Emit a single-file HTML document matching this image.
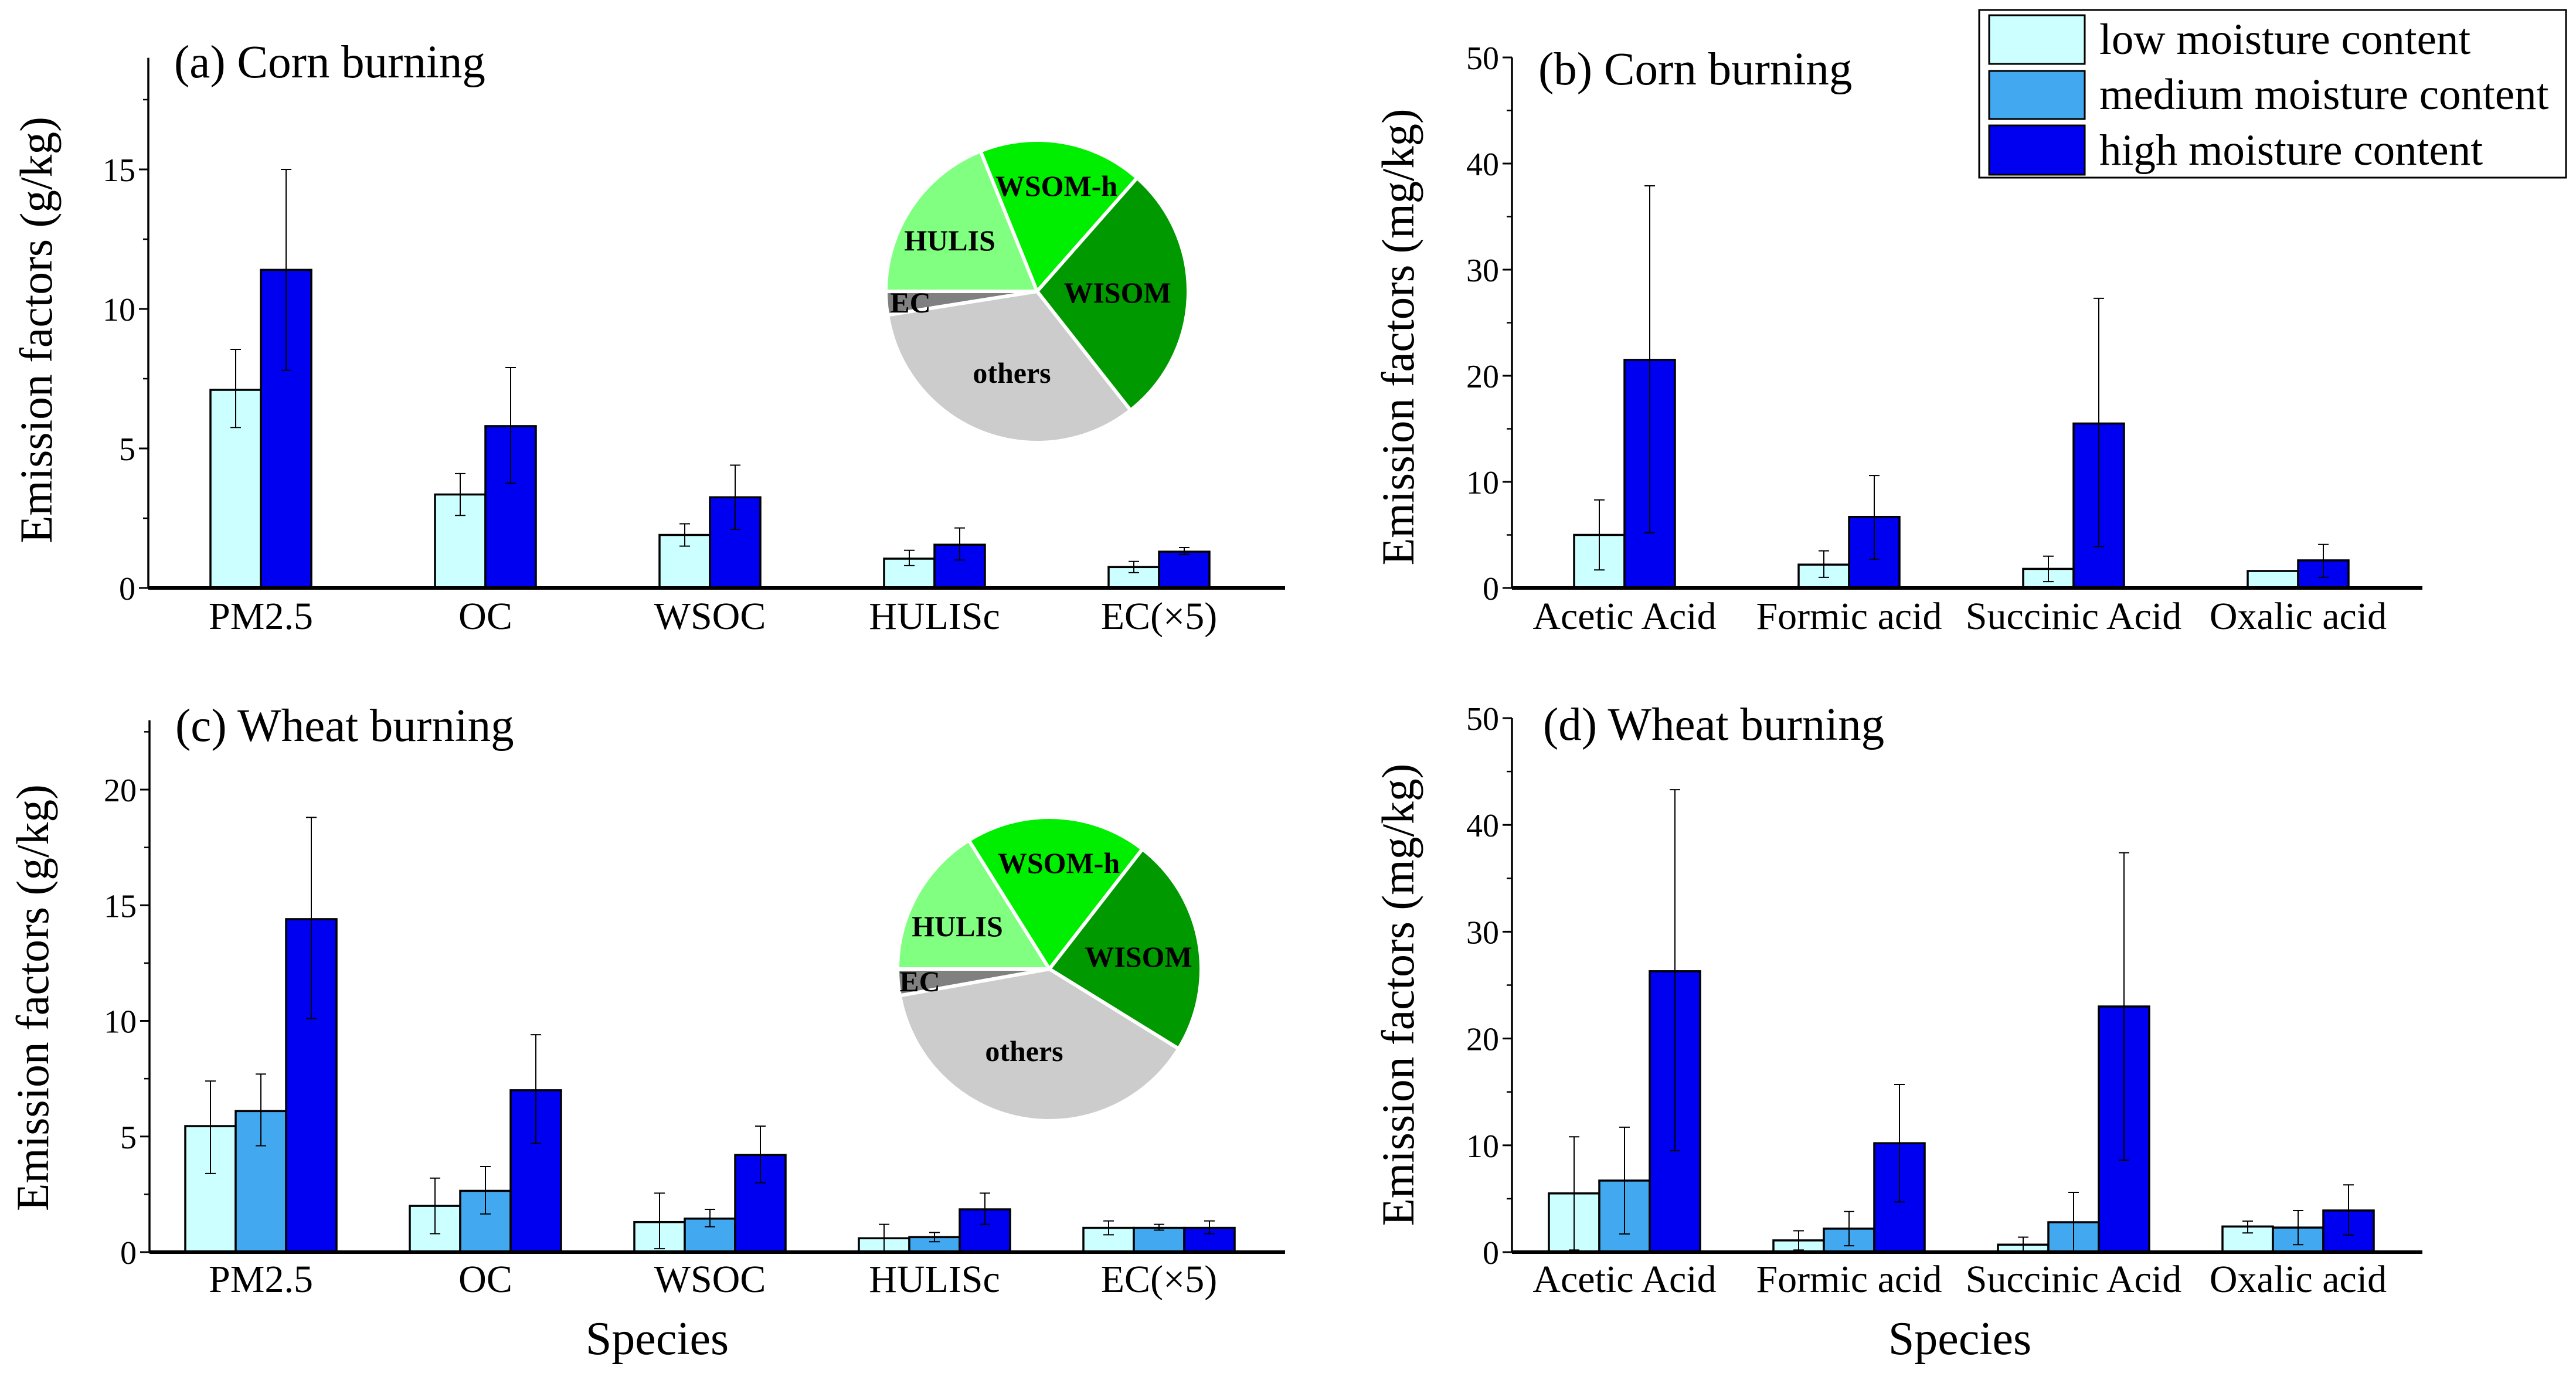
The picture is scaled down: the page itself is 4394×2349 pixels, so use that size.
<!DOCTYPE html>
<html><head><meta charset="utf-8"><style>
html,body{margin:0;padding:0;background:#fff}
svg{display:block}
text{font-family:"Liberation Serif",serif;fill:#000}
</style></head><body>
<svg id="fig" width="4394" height="2349" viewBox="0 0 4394 2349" xmlns="http://www.w3.org/2000/svg">
<g>
<rect x="3376" y="17" width="1001" height="286" fill="#fff" stroke="#000" stroke-width="3"/>
<rect x="3393" y="26" width="163" height="83" fill="#ccffff" stroke="#000" stroke-width="3"/>
<rect x="3393" y="121" width="163" height="82" fill="#42a8f0" stroke="#000" stroke-width="3"/>
<rect x="3393" y="214" width="163" height="84" fill="#0000f0" stroke="#000" stroke-width="3"/>
<text x="3581" y="92" font-size="75">low moisture content</text>
<text x="3581" y="186" font-size="75">medium moisture content</text>
<text x="3581" y="281" font-size="75">high moisture content</text>
</g>
</svg>
<script>
// ---- data ----
const catsTop=["PM2.5","OC","WSOC","HULISc","EC(×5)"];
const catsAcid=["Acetic Acid","Formic acid","Succinic Acid","Oxalic acid"];
// panel a (corn, g/kg): low, high
const aLow=[7.1,3.35,1.9,1.05,0.75];
const aLowLo=[5.75,2.6,1.5,0.8,0.55];
const aLowHi=[8.55,4.1,2.3,1.35,0.95];
const aHigh=[11.4,5.8,3.25,1.55,1.3];
const aHighLo=[7.8,3.75,2.1,1.0,1.2];
const aHighHi=[15.0,7.9,4.4,2.15,1.45];
// panel b (corn, mg/kg)
const bLow=[5.0,2.2,1.8,1.6];
const bLowLo=[1.7,1.0,0.6,1.6];
const bLowHi=[8.3,3.5,3.0,1.6];
const bHigh=[21.5,6.7,15.5,2.6];
const bHighLo=[5.2,2.7,3.9,1.0];
const bHighHi=[37.9,10.6,27.3,4.1];
// panel c (wheat, g/kg)
const cLow=[5.45,2.0,1.3,0.6,1.05];
const cLowLo=[3.4,0.8,0.15,0.0,0.75];
const cLowHi=[7.4,3.2,2.55,1.2,1.35];
const cMed=[6.1,2.65,1.45,0.65,1.05];
const cMedLo=[4.6,1.65,1.1,0.45,0.95];
const cMedHi=[7.7,3.7,1.85,0.85,1.2];
const cHigh=[14.4,7.0,4.2,1.85,1.05];
const cHighLo=[10.1,4.7,3.0,1.2,0.8];
const cHighHi=[18.8,9.4,5.45,2.55,1.35];
// panel d (wheat, mg/kg)
const dLow=[5.5,1.1,0.7,2.4];
const dLowLo=[0.2,0.2,0.0,1.8];
const dLowHi=[10.8,2.0,1.4,2.9];
const dMed=[6.7,2.2,2.8,2.3];
const dMedLo=[1.7,0.6,0.0,0.7];
const dMedHi=[11.7,3.8,5.6,3.9];
const dHigh=[26.3,10.2,23.0,3.9];
const dHighLo=[9.5,4.7,8.6,1.6];
const dHighHi=[43.3,15.7,37.4,6.3];
// pie shares (percent)
const pieLabels=["HULIS","WSOM-h","WISOM","others","EC"];
const pieA=[18.9,17.6,27.9,33.1,2.5];
const pieC=[16.1,19.4,23.3,38.4,2.8];
const pieColors=["#80ff80","#00ee00","#009900","#cccccc","#808080"];
const ticksA=[0,5,10,15], ticksC=[0,5,10,15,20], ticksAcid=[0,10,20,30,40,50];

const NS="http://www.w3.org/2000/svg";
const svg=document.getElementById('fig');
function mk(tag,attrs,parent,txt){const e=document.createElementNS(NS,tag);for(const k in attrs)e.setAttribute(k,attrs[k]);if(txt!==undefined)e.textContent=txt;(parent||svg).appendChild(e);return e;}

function panel(o){
  const g=mk('g',{});
  
  
  const y=v=>o.y0-(v/o.tv)*(o.y0-o.ty0);
  const topY=y(o.max);
  for(let v=o.minor;v<=o.max+1e-6;v+=o.minor){mk('line',{x1:o.ax-9,x2:o.ax,y1:y(v),y2:y(v),stroke:'#000','stroke-width':2.5},g);}
  o.ticks.forEach(v=>{
    mk('line',{x1:o.ax-16,x2:o.ax,y1:y(v),y2:y(v),stroke:'#000','stroke-width':3},g);
    const t=mk('text',{x:o.ax-22,y:y(v)+20,'font-size':56,'text-anchor':'end'},g,String(v));
    
    
  });
  const n=o.series.length, bw=86;
  o.cats.forEach((c,i)=>{
    const cx=o.c0+i*383;
    o.series.forEach((s,j)=>{
      const x=cx-n*bw/2+j*bw;
      const r=mk('rect',{x:x,y:y(s.v[i]),width:bw,height:o.y0-y(s.v[i]),fill:s.col,stroke:'#000','stroke-width':3.5},g);
      
      
      const ex=x+bw/2;
      const e=mk('path',{d:`M${ex},${y(s.lo[i])}V${y(s.hi[i])}M${ex-9},${y(s.lo[i])}h18M${ex-9},${y(s.hi[i])}h18`,stroke:'#000','stroke-width':2,fill:'none'},g);
      
      
    });
    const t=mk('text',{x:cx,y:o.labY,'font-size':66,'text-anchor':'middle'},g,c);
    
    
  });
  mk('line',{x1:o.ax,x2:o.ax,y1:topY,y2:o.y0,stroke:'#000','stroke-width':3.5},g);
  const xa=mk('line',{x1:o.ax,x2:o.xend,y1:o.y0,y2:o.y0,stroke:'#000','stroke-width':6},g);
  
  
  const tt=mk('text',{x:o.tx,y:o.tty,'font-size':79},g,o.title);
  
  
  const yt=mk('text',{x:0,y:0,'font-size':78,'text-anchor':'middle',textLength:o.ytl,lengthAdjust:'spacingAndGlyphs',transform:`translate(${o.ytx},${o.yty}) rotate(-90)`},g,o.ytitle);
  
  
  if(o.species){const s=mk('text',{x:o.species,y:2310,'font-size':80,'text-anchor':'middle'},g,'Species');
    
    }
}

function pie(cx,cy,r,vals,labpos,name){
  const g=mk('g',{});
  
  
  const tot=vals.reduce((a,b)=>a+b,0);
  let a=270;
  vals.forEach((v,i)=>{
    const a0=a, a1=a+v/tot*360; a=a1;
    const p=ang=>[cx+r*Math.sin(ang*Math.PI/180),cy-r*Math.cos(ang*Math.PI/180)];
    const [x0,y0]=p(a0),[x1,y1]=p(a1);
    const s=mk('path',{d:`M${cx},${cy}L${x0},${y0}A${r},${r} 0 ${a1-a0>180?1:0} 1 ${x1},${y1}Z`,fill:pieColors[i],stroke:'#fff','stroke-width':6},g);
    
    
  });
  pieLabels.forEach((l,i)=>{
    const t=mk('text',{x:labpos[i][0],y:labpos[i][1]+17,'font-size':50,'font-weight':'bold','text-anchor':'middle'},g,l);
    
    
  });
}

const LOW='#ccffff',MED='#42a8f0',HIGH='#0000f0';
panel({name:'panel-a',ax:253,y0:1003,ty0:289,tv:15,max:19,minor:2.5,ticks:ticksA,cats:catsTop,c0:445,xend:2192,labY:1073,
  series:[{key:'low',v:aLow,lo:aLowLo,hi:aLowHi,col:LOW},{key:'high',v:aHigh,lo:aHighLo,hi:aHighHi,col:HIGH}],
  title:'(a) Corn burning',tx:297,tty:132,ytitle:'Emission factors (g/kg)',ytl:728,ytx:88,yty:563});
panel({name:'panel-b',ax:2579,y0:1003,ty0:98,tv:50,max:50,minor:5,ticks:ticksAcid,cats:catsAcid,c0:2771,xend:4132,labY:1073,
  series:[{key:'low',v:bLow,lo:bLowLo,hi:bLowHi,col:LOW},{key:'high',v:bHigh,lo:bHighLo,hi:bHighHi,col:HIGH}],
  title:'(b) Corn burning',tx:2624,tty:144,ytitle:'Emission factors (mg/kg)',ytl:779,ytx:2411,yty:575});
panel({name:'panel-c',ax:255,y0:2136,ty0:1347,tv:20,max:23,minor:2.5,ticks:ticksC,cats:catsTop,c0:445,xend:2192,labY:2204,
  series:[{key:'low',v:cLow,lo:cLowLo,hi:cLowHi,col:LOW},{key:'medium',v:cMed,lo:cMedLo,hi:cMedHi,col:MED},{key:'high',v:cHigh,lo:cHighLo,hi:cHighHi,col:HIGH}],
  title:'(c) Wheat burning',tx:299,tty:1264,ytitle:'Emission factors (g/kg)',ytl:728,ytx:82,yty:1702,species:1121});
panel({name:'panel-d',ax:2579,y0:2136,ty0:1225,tv:50,max:50,minor:5,ticks:ticksAcid,cats:catsAcid,c0:2771,xend:4132,labY:2204,
  series:[{key:'low',v:dLow,lo:dLowLo,hi:dLowHi,col:LOW},{key:'medium',v:dMed,lo:dMedLo,hi:dMedHi,col:MED},{key:'high',v:dHigh,lo:dHighLo,hi:dHighHi,col:HIGH}],
  title:'(d) Wheat burning',tx:2632,tty:1262,ytitle:'Emission factors (mg/kg)',ytl:789,ytx:2411,yty:1697,species:3343});
pie(1769,497,258,pieA,[[1620,410],[1802,317],[1906,499],[1726,636],[1553,516]],'pie-corn');
pie(1790,1653,259,pieC,[[1633,1580],[1806,1472],[1942,1632],[1747,1793],[1569,1674]],'pie-wheat');
</script>
</body></html>
